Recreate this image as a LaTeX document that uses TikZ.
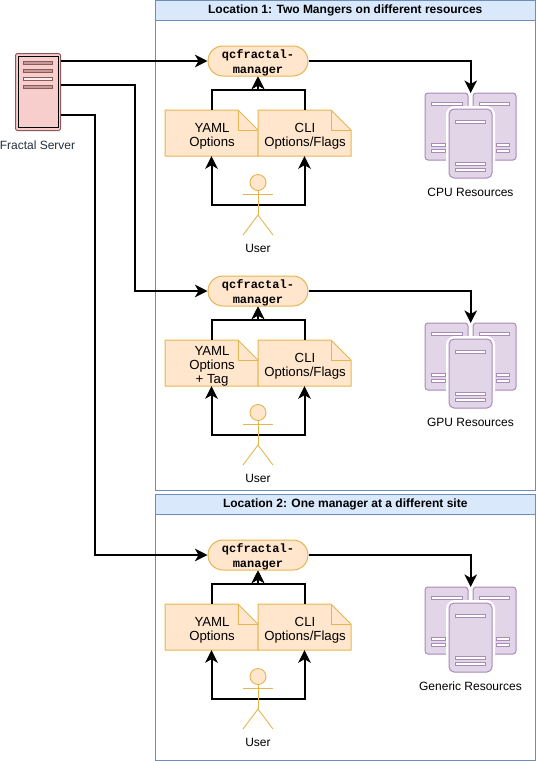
\documentclass[tikz,border=0pt]{standalone}
\usepackage{fontspec}
\setmainfont{Liberation Sans}
\setmonofont{Liberation Mono}
\usetikzlibrary{arrows.meta}

\definecolor{sitefill}{HTML}{DAE8FC}
\definecolor{sitedraw}{HTML}{6C8EBF}
\definecolor{noteFill}{HTML}{FFE6CC}
\definecolor{noteDraw}{HTML}{E5B650}
\definecolor{resFill}{HTML}{E1D5E7}
\definecolor{resDraw}{HTML}{A98BB8}
\definecolor{srvFill}{HTML}{F8CECC}
\definecolor{srvDraw}{HTML}{8A5A58}
\definecolor{srvText}{HTML}{232F3E}

\tikzset{
	flow/.style={line width=2pt,-{Stealth[length=12.5pt,width=12.5pt,inset=3.5pt]}},
	site/.style={draw=sitedraw,line width=0.8pt},
	sitehead/.style={draw=sitedraw,fill=sitefill,line width=0.8pt,minimum width=379.5pt,minimum height=20pt,inner sep=0pt,font=\fontsize{12}{14}\selectfont\bfseries},
	manager/.style={draw=noteDraw,fill=noteFill,line width=1pt,rounded corners=15pt,minimum width=100pt,minimum height=30pt,inner sep=0pt},
	mgrtext/.style={inner sep=0pt,align=center,font=\fontsize{12}{15}\selectfont\ttfamily\bfseries},
	notebox/.style={minimum width=93pt,minimum height=46pt,inner sep=0pt},
	notetext/.style={inner sep=0pt,align=center,font=\fontsize{13.2}{14}\selectfont},
	notepath/.style={draw=noteDraw,fill=noteFill,line width=1pt,line join=miter},
	figure/.style={draw=noteDraw,line width=0.9pt},
	figurehead/.style={circle,draw=noteDraw,fill=noteFill,line width=0.9pt,minimum size=16pt,inner sep=0pt},
	caption/.style={inner sep=0pt,font=\fontsize{12}{14}\selectfont},
	resbox/.style={draw=resDraw,fill=resFill,line width=1pt,rounded corners=3pt},
	resbar/.style={draw=resDraw,fill=white,line width=1pt},
	srvbar/.style={draw=srvDraw,fill=srvDraw!45!srvFill,line width=1pt},
}

\newcommand{\NoteBox}[4]{
	\draw[notepath] (#2-46.5,#3-23) -- (#2+26.5,#3-23) -- (#2+46.5,#3-3) -- (#2+46.5,#3+23) -- (#2-46.5,#3+23) -- cycle;
	\draw[notepath,fill=none] (#2+26.5,#3-23) -- (#2+26.5,#3-3) -- (#2+46.5,#3-3);
	\node[notebox] (#1) at (#2,#3) {};
	\node[notetext] (#1text) at (#2+0.5,#3+3) {#4};
}

\newcommand{\Stickman}[3]{
	\begin{scope}[shift={(#2,#3)}]
		\node[figurehead] (#1head) at (0,8.5) {};
		\coordinate (#1hip) at (0,41);
		\draw[figure] (#1head.south) -- (#1hip);
		\draw[figure] (-15,20.5) -- (15,20.5);
		\draw[figure] (-15,61) -- (#1hip) -- (15,61);
		\node[caption] (#1text) at (0,74.5) {User};
	\end{scope}
}

\newcommand{\ResIcon}[4]{
	\begin{scope}[shift={(#2,#3)}]
		\node[minimum width=91pt,minimum height=86pt,inner sep=0pt,anchor=north west] (#1) at (0,0) {};
		\draw[resbox] (0,0) rectangle (43,67);
		\draw[resbox] (48,0) rectangle (91,67);
		\draw[resbar] (6.5,9.5) rectangle (37,12.5);
		\draw[resbar] (54,9.5) rectangle (84.5,12.5);
		\draw[resbar] (6.5,50.5) rectangle (20,53.5);
		\draw[resbar] (6.5,56.5) rectangle (20,59.5);
		\draw[resbar] (71,50.5) rectangle (84.5,53.5);
		\draw[resbar] (71,56.5) rectangle (84.5,59.5);
		\draw[draw=white,line width=6pt,rounded corners=6pt] (24,16) rectangle (67,85);
		\draw[resbox,rounded corners=5pt] (24,16) rectangle (67,85);
		\draw[resbar] (30.5,27.5) rectangle (60.5,30.5);
		\draw[resbar] (30.5,69.5) rectangle (60.5,72.5);
		\draw[resbar] (30.5,75.5) rectangle (60.5,78.5);
		\node[caption] (#1text) at (45.5,99) {#4};
	\end{scope}
}

\begin{document}
\begin{tikzpicture}[x=1pt,y=-1pt]
	\useasboundingbox (0,0) rectangle (536,761);
	\draw[site] (155.5,0.5) rectangle (535,490);
	\draw[site] (155.5,494) rectangle (535,760);
	\node[sitehead] (head1) at (345.25,10.5) {Location 1: Two Mangers on different resources};
	\node[sitehead] (head2) at (345.25,504) {Location 2: One manager at a different site};

	\draw[srvDraw,fill=srvFill,line width=1pt,rounded corners=1.5pt] (15.5,53.5) rectangle (60.5,130.5);
	\draw[black,line width=0.8pt] (18.5,56.5) rectangle (58,127.5);
	\draw[srvbar] (23,61) rectangle (52.5,64);
	\draw[srvbar] (23,69) rectangle (52.5,72);
	\draw[srvbar,fill=srvFill!30] (23,77) rectangle (52.5,80);
	\draw[srvbar] (23,85) rectangle (52.5,88);
	\coordinate (srv1) at (60.5,61);
	\coordinate (srv2) at (60.5,85);
	\coordinate (srv3) at (60.5,115);
	\node[caption,text=srvText] (srvtext) at (37.5,145) {Fractal Server};

	\node[manager] (mgr1) at (258,61) {};
	\node[manager] (mgr2) at (258,291) {};
	\node[manager] (mgr3) at (258,555) {};
	\node[mgrtext] (mgrtext1) at (258,62.5) {qcfractal-\\manager};
	\node[mgrtext] (mgrtext2) at (258,292.5) {qcfractal-\\manager};
	\node[mgrtext] (mgrtext3) at (258,556.5) {qcfractal-\\manager};

	\NoteBox{yaml1}{211.5}{133}{YAML\\Options}
	\NoteBox{cli1}{304.5}{133}{CLI\\Options/Flags}
	\NoteBox{yaml2}{211.5}{363}{YAML\\Options\\+ Tag}
	\NoteBox{cli2}{304.5}{363}{CLI\\Options/Flags}
	\NoteBox{yaml3}{211.5}{627}{YAML\\Options}
	\NoteBox{cli3}{304.5}{627}{CLI\\Options/Flags}

	\ResIcon{cpu}{425}{93}{CPU Resources}
	\ResIcon{gpu}{425}{323}{GPU Resources}
	\ResIcon{gen}{425}{587}{Generic Resources}

	\coordinate (user1) at (258,205);
	\coordinate (user2) at (258,435);
	\coordinate (user3) at (258,699);

	\draw[flow] (srv1) -- (mgr1.west);
	\draw[flow] (srv2) -- (135,85) |- (mgr2.west);
	\draw[flow] (srv3) -- (95,115) |- (mgr3.west);

	\draw[flow] (mgr1.east) -| (cpu.north);
	\draw[flow] (mgr2.east) -| (gpu.north);
	\draw[flow] (mgr3.east) -| (gen.north);

	\draw[flow] (yaml1.north) |- (258,90) -- (mgr1.south);
	\draw[flow] (cli1.north) |- (258,90) -- (mgr1.south);
	\draw[flow] (yaml2.north) |- (258,320) -- (mgr2.south);
	\draw[flow] (cli2.north) |- (258,320) -- (mgr2.south);
	\draw[flow] (yaml3.north) |- (258,584) -- (mgr3.south);
	\draw[flow] (cli3.north) |- (258,584) -- (mgr3.south);

	\draw[flow] (user1) -| (yaml1.south);
	\draw[flow] (user1) -| (cli1.south);
	\draw[flow] (user2) -| (yaml2.south);
	\draw[flow] (user2) -| (cli2.south);
	\draw[flow] (user3) -| (yaml3.south);
	\draw[flow] (user3) -| (cli3.south);

	\Stickman{man1}{258}{174}
	\Stickman{man2}{258}{404}
	\Stickman{man3}{258}{668}
\end{tikzpicture}
\end{document}
